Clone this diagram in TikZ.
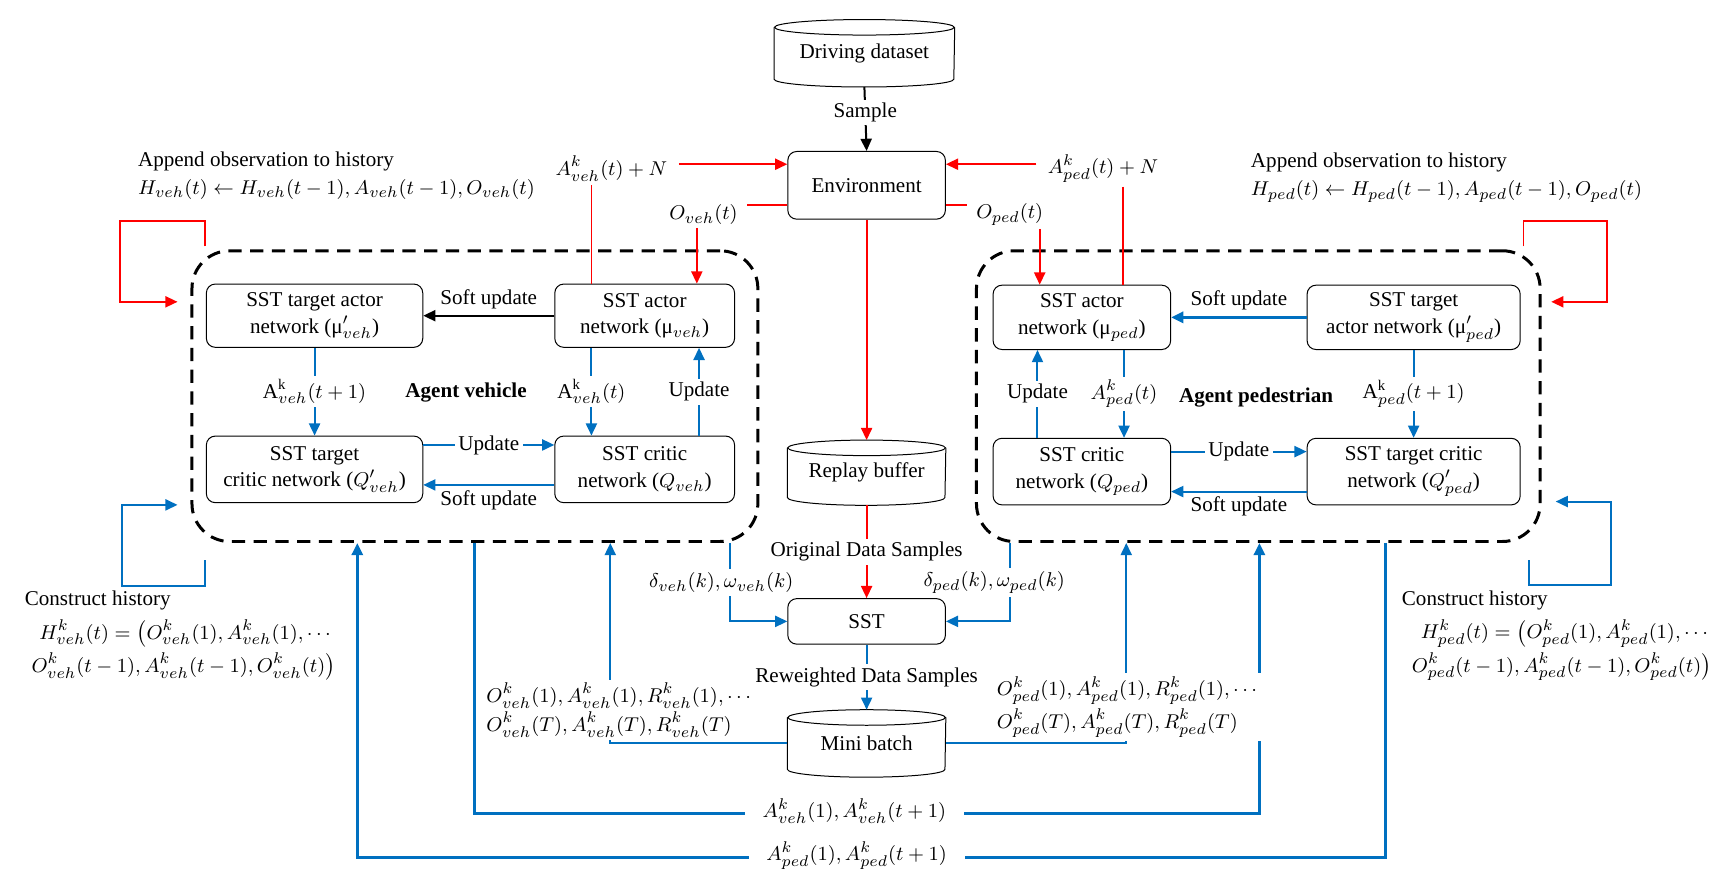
\documentclass[tikz,border=0pt]{standalone}
\usepackage{fontspec}
\setmainfont{Liberation Serif}
\usetikzlibrary{arrows.meta}
\definecolor{myblue}{RGB}{0,112,192}
\definecolor{myred}{RGB}{255,0,0}
\newcommand{\cylshape}[2]{%
  \draw[line width=0.45pt] (#1.north) ellipse[x radius=#2, y radius=3.5pt];
  \draw[line width=0.45pt] (#1.north west) -- (#1.south west)
     arc[start angle=180,end angle=360,x radius=#2,y radius=3.5pt] -- (#1.north east);}
\begin{document}
\begin{tikzpicture}[x=0.5pt,y=-0.5pt,
  every node/.style={font=\fontsize{9.5}{12}\selectfont},
  box/.style={draw,rounded corners=4pt,line width=0.45pt,align=center,inner sep=1pt},
  cylnode/.style={align=center,inner sep=0pt},
  lbl/.style={inner sep=1.5pt},
  side/.style={inner xsep=1pt,inner ysep=0pt,anchor=west},
  wlbl/.style={fill=white,inner sep=1.5pt},
  tip/.style={-{Triangle[length=5.5pt,width=5pt]}},
  redl/.style={draw=myred,line width=0.8pt},
  bluel/.style={draw=myblue,line width=0.9pt},
  bluet/.style={draw=myblue,line width=1.4pt},
  blackl/.style={draw=black,line width=0.9pt},
  agent/.style={draw,line width=1.35pt,dash pattern=on 6pt off 3.8pt,rounded corners=17pt,minimum height=131pt},
]
\useasboundingbox (0,0) rectangle (1560,788);

% agent frames
\node[agent,minimum width=255pt] (lbox) at (428,357) {};
\node[agent,minimum width=254pt] (rbox) at (1134,357) {};

% centre column
\node[cylnode,minimum width=81pt,minimum height=23pt] (dd) at (779,48) {Driving dataset};
\cylshape{dd}{40.5pt}
\node[box,minimum width=71pt,minimum height=30.5pt] (env) at (781,167) {Environment};
\node[cylnode,minimum width=71pt,minimum height=22pt] (rb) at (781,426) {Replay buffer};
\cylshape{rb}{35.5pt}
\node[box,minimum width=71pt,minimum height=20.5pt] (sst) at (781,560) {SST};
\node[cylnode,minimum width=71pt,minimum height=23pt] (mb) at (781,670) {Mini batch};
\cylshape{mb}{35.5pt}

% left agent boxes
\node[box,minimum width=97.5pt,minimum height=28.5pt] (ta) at (283.5,284.5) {SST target actor\\network (μ$'_{veh}$)};
\node[box,minimum width=81pt,minimum height=28.5pt] (a) at (581,284.5) {SST actor\\network (μ$_{veh}$)};
\node[box,minimum width=97.5pt,minimum height=30pt] (tc) at (283.5,423) {SST target\\critic network ($Q'_{veh}$)};
\node[box,minimum width=81pt,minimum height=30pt] (c) at (581,423) {SST critic\\network ($Q_{veh}$)};
\node[lbl,font=\fontsize{9.5}{12}\selectfont\bfseries] (agv) at (420,354) {Agent vehicle};

% right agent boxes
\node[box,minimum width=80pt,minimum height=29pt] (pa) at (975,286) {SST actor\\network (μ$_{ped}$)};
\node[box,minimum width=96pt,minimum height=29pt] (pta) at (1274,286) {SST target\\actor network (μ$'_{ped}$)};
\node[box,minimum width=80pt,minimum height=30pt] (pc) at (975,425) {SST critic\\network ($Q_{ped}$)};
\node[box,minimum width=96pt,minimum height=30pt] (ptc) at (1274,425) {SST target critic\\network ($Q'_{ped}$)};
\node[lbl,font=\fontsize{9.5}{12}\selectfont\bfseries] (agp) at (1132,358) {Agent pedestrian};

% helper coordinates
\coordinate (ay) at (0,148);
\coordinate (oy) at (0,185);
\coordinate (rv) at (533,0);
\coordinate (ox) at (628,0);
\coordinate (uv) at (630,0);
\coordinate (px) at (937,0);
\coordinate (qx) at (1012,0);
\coordinate (w1) at (1013,0);
\coordinate (w2) at (935,0);
\coordinate (u1) at (0,401);
\coordinate (s1) at (0,437);
\coordinate (u2) at (0,407);
\coordinate (s2) at (0,443);

% top labels
\node[lbl,inner xsep=5pt] (lav) at (551,152) {$A^{k}_{veh}(t)+N$};
\node[lbl,inner xsep=4pt] (ovl) at (634,193) {$O_{veh}(t)$};
\node[lbl,inner xsep=5pt] (apl) at (994,152) {$A^{k}_{ped}(t)+N$};
\node[lbl,inner xsep=4pt] (opl) at (910,193) {$O_{ped}(t)$};

% centre connectors
\draw[blackl,tip] ([yshift=-3.5pt]dd.south) -- (env.north) node[wlbl,pos=0.4] (smp) {Sample};
\draw[redl,tip] (lav.east |- ay) -- (env.west |- ay);
\draw[redl,tip] (apl.west |- ay) -- (env.east |- ay);
\draw[redl] (env.west |- oy) -- (ovl.east |- oy);
\draw[redl] (env.east |- oy) -- (opl.west |- oy);
\draw[redl,tip] (ovl.south -| ox) -- (a.north -| ox);
\draw[redl,tip] (opl.south -| px) -- (pa.north -| px);
\draw[redl] (lav.south -| rv) -- (a.north -| rv);
\draw[redl] (apl.south -| qx) -- (pa.north -| qx);
\draw[redl,tip] (env.south) -- ([yshift=3.5pt]rb.north);
\draw[redl,tip] ([yshift=-3.5pt]rb.south) -- (sst.north) node[wlbl,midway] (ods) {Original Data Samples};
\draw[bluel,tip] (sst.south) -- ([yshift=3.5pt]mb.north) node[wlbl,midway] (rds) {Reweighted Data Samples};

% left agent internals
\draw[blackl,tip] (a.west) -- (ta.east) node[midway,above,inner sep=2.5pt] (su1) {Soft update};
\draw[bluel,tip] (ta.south) -- (tc.north) node[wlbl,midway] (l1) {$\mathrm{A}^{\mathrm{k}}_{veh}(t+1)$};
\draw[bluel,tip] (a.south -| rv) -- (c.north -| rv) node[wlbl,midway] (l2) {$\mathrm{A}^{\mathrm{k}}_{veh}(t)$};
\draw[bluel,tip] (c.north -| uv) -- (a.south -| uv) node[wlbl,midway] (l3) {Update};
\draw[bluel,tip] (tc.east |- u1) -- (c.west |- u1) node[wlbl,midway] (l4) {Update};
\draw[bluel,tip] (c.west |- s1) -- (tc.east |- s1) node[midway,below,inner sep=2pt] (l5) {Soft update};

% right agent internals
\draw[bluet,tip] (pta.west) -- (pa.east) node[midway,above,inner sep=2.5pt] (su2) {Soft update};
\draw[bluel,tip] (pa.south -| w1) -- (pc.north -| w1) node[wlbl,midway] (r1) {$A^{k}_{ped}(t)$};
\draw[bluel,tip] (pc.north -| w2) -- (pa.south -| w2) node[wlbl,midway] (r2) {Update};
\draw[bluel,tip] (pta.south) -- (ptc.north) node[wlbl,midway] (r3) {$\mathrm{A}^{\mathrm{k}}_{ped}(t+1)$};
\draw[bluel,tip] (pc.east |- u2) -- (ptc.west |- u2) node[wlbl,midway] (r4) {Update};
\draw[bluel,tip] (ptc.west |- s2) -- (pc.east |- s2) node[midway,below,inner sep=2pt] (r5) {Soft update};

% side annotations
\node[lbl,anchor=west,align=left] (hl) at (121,158) {Append observation to history\\[0.5pt]$H_{veh}(t)\leftarrow H_{veh}(t-1),A_{veh}(t-1),O_{veh}(t)$};
\node[lbl,anchor=west,align=left] (hr) at (1124,160) {Append observation to history\\[0.5pt]$H_{ped}(t)\leftarrow H_{ped}(t-1),A_{ped}(t-1),O_{ped}(t)$};
\node[side] (chl) at (20,541) {Construct history};
\node[side] (chl1) at (33,571) {$H^{k}_{veh}(t)=\bigl(O^{k}_{veh}(1),A^{k}_{veh}(1),\cdots$};
\node[side] (chl2) at (26,601) {$O^{k}_{veh}(t-1),A^{k}_{veh}(t-1),O^{k}_{veh}(t)\bigr)$};
\node[side] (chr) at (1261,541) {Construct history};
\node[side] (chr1) at (1278,571) {$H^{k}_{ped}(t)=\bigl(O^{k}_{ped}(1),A^{k}_{ped}(1),\cdots$};
\node[side] (chr2) at (1270,601) {$O^{k}_{ped}(t-1),A^{k}_{ped}(t-1),O^{k}_{ped}(t)\bigr)$};

% feedback loops
\coordinate (lr0) at (185,222); \coordinate (lr1) at (160,272);
\draw[redl,tip] (lr0) |- (108,199) |- (lr1);
\coordinate (lb0) at (185,505); \coordinate (lb1) at (160,455);
\draw[bluel,tip] (lb0) |- (110,528) |- (lb1);
\coordinate (rr0) at (1373,222); \coordinate (rr1) at (1398,272);
\draw[redl,tip] (rr0) |- (1448,199) |- (rr1);
\coordinate (rb0) at (1378,505); \coordinate (rb1) at (1402,452);
\draw[bluel,tip] (rb0) |- (1452,527) |- (rb1);

% bottom connectors
\coordinate (dv) at (658,560);
\coordinate (dp) at (910,560);
\coordinate (mv) at (550,0);
\coordinate (mp) at (1015,0);
\coordinate (t1) at (428,733); \coordinate (t2) at (1135,733);
\coordinate (t3) at (1249,773); \coordinate (t4) at (322,773);
\draw[bluel,tip] (lbox.south -| dv) -- (dv) -- (sst.west);
\draw[bluel,tip] (rbox.south -| dp) -- (dp) -- (sst.east);
\draw[bluel,tip] (mb.west) -| (lbox.south -| mv);
\draw[bluel,tip] (mb.east) -| (rbox.south -| mp);
\draw[bluet,tip] (lbox.south -| t1) -- (t1) -- (t2) -- (rbox.south -| t2);
\draw[bluet,tip] (rbox.south -| t3) -- (t3) -- (t4) -- (lbox.south -| t4);

\node[wlbl] (dvl) at (650,525) {$\delta_{veh}(k),\omega_{veh}(k)$};
\node[wlbl] (dpl) at (896,525) {$\delta_{ped}(k),\omega_{ped}(k)$};
\node[wlbl,anchor=west,align=left] (mvl) at (435,640) {$O^{k}_{veh}(1),A^{k}_{veh}(1),R^{k}_{veh}(1),\cdots$\\[1pt]$O^{k}_{veh}(T),A^{k}_{veh}(T),R^{k}_{veh}(T)$};
\node[wlbl,anchor=west,align=left] (mpl) at (895,637) {$O^{k}_{ped}(1),A^{k}_{ped}(1),R^{k}_{ped}(1),\cdots$\\[1pt]$O^{k}_{ped}(T),A^{k}_{ped}(T),R^{k}_{ped}(T)$};
\node[wlbl,inner xsep=8pt] (avl) at (770,731) {$A^{k}_{veh}(1),A^{k}_{veh}(t+1)$};
\node[wlbl,inner xsep=8pt] (apl2) at (772,771) {$A^{k}_{ped}(1),A^{k}_{ped}(t+1)$};
\end{tikzpicture}
\end{document}
